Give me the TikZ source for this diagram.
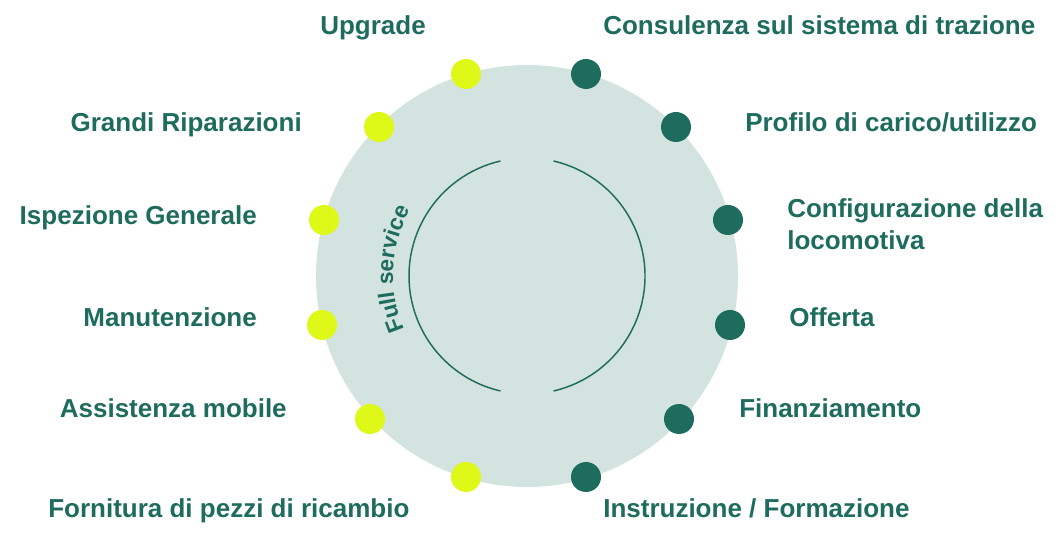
\documentclass[tikz,border=0pt]{standalone}
\usepackage{fontspec}
\setmainfont{Liberation Sans}
\usetikzlibrary{decorations.text}

\definecolor{fsgreen}{RGB}{30,108,94}
\definecolor{fsyellow}{RGB}{222,248,24}
\definecolor{fsmint}{RGB}{211,227,223}

\begin{document}
\begin{tikzpicture}[x=0.75pt, y=0.75pt]

\tikzstyle{yellowdot}=[circle, minimum size = 22.5pt, inner sep=0pt, fill=fsyellow]
\tikzstyle{greendot}=[circle, minimum size = 22.5pt, inner sep=0pt, fill=fsgreen]
\tikzstyle{itemtext}=[inner sep=0pt, text=fsgreen, align=left, font=\bfseries\fontsize{19.5}{24}\selectfont]
\tikzstyle{ring}=[fsgreen, line width=1.1pt]

\useasboundingbox (0,0) rectangle (1062,538);

\node[circle, minimum size = 316.5pt, inner sep=0pt, fill=fsmint] (disc) at (527,262) {};

% inner ring, open at top and bottom
\draw[ring] (disc.center) ++(103:118) arc[start angle=103, end angle=257, radius=118];
\draw[ring] (disc.center) ++(-77:118) arc[start angle=-77, end angle=77, radius=118];

\path[decorate, decoration={text along path, text align=center,
  text={|\color{fsgreen}\bfseries\fontsize{17}{17}\selectfont|Full service}}]
  (disc.center) ++(204:134) arc[start angle=204, end angle=150, radius=134];



\node[yellowdot] (upgradedot) at (466,464)  {};
\node[yellowdot] (riparadot) at (379,411)  {};
\node[yellowdot] (ispezdot) at (324,318)  {};
\node[yellowdot] (manutdot) at (322,213)  {};
\node[yellowdot] (assistdot) at (370,119)  {};
\node[yellowdot] (fornitdot) at (466,61)  {};

\node[greendot] (consuldot) at (586,464)  {};
\node[greendot] (profilodot) at (676,411)  {};
\node[greendot] (configdot) at (728,318)  {};
\node[greendot] (offertadot) at (730,213)  {};
\node[greendot] (finanzdot) at (679,119)  {};
\node[greendot] (istrdot) at (586,61)  {};



\node[itemtext, anchor=base west] (upgrade) at (320,503)  {Upgrade};
\node[itemtext, anchor=base east] (ripara) at (302,406)  {Grandi Riparazioni};
\node[itemtext, anchor=base east] (ispez) at (257,313)  {Ispezione Generale};
\node[itemtext, anchor=base east] (manut) at (257,211)  {Manutenzione};
\node[itemtext, anchor=base east] (assist) at (287,120)  {Assistenza mobile};
\node[itemtext, anchor=base west] (fornit) at (48,20)  {Fornitura di pezzi di ricambio};

\node[itemtext, anchor=base west] (consul) at (603,503)  {Consulenza sul sistema di trazione};
\node[itemtext, anchor=base west] (profilo) at (745,406)  {Profilo di carico/utilizzo};
\node[itemtext, anchor=base west] (config) at (787,288)  {Configurazione della\\locomotiva};
\node[itemtext, anchor=base west] (offerta) at (789,211)  {Offerta};
\node[itemtext, anchor=base west] (finanz) at (739,120)  {Finanziamento};
\node[itemtext, anchor=base west] (istr) at (603,20)  {Instruzione / Formazione};

\end{tikzpicture}
\end{document}
